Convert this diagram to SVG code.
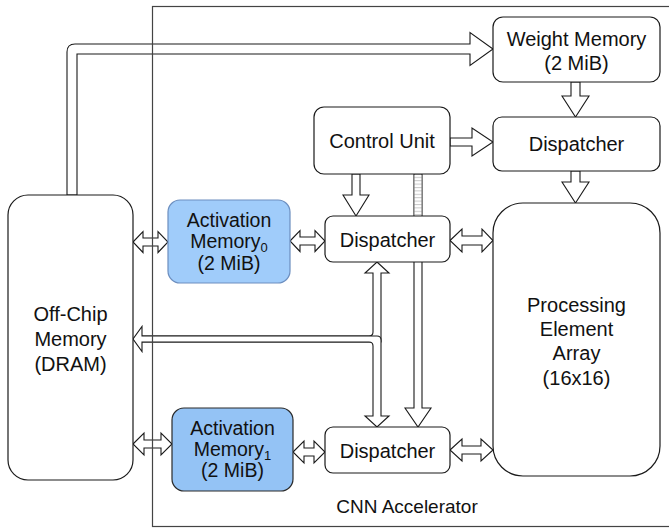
<svg xmlns="http://www.w3.org/2000/svg" width="669" height="528" viewBox="0 0 669 528">
<style>
.box{fill:#fff;stroke:#1a1a1a;stroke-width:1.2}
.t{font-family:"Liberation Sans",Arial,sans-serif;font-size:20px;fill:#111;text-anchor:middle}
.am{font-size:19.5px}
.sub{font-size:13px}
.arr{fill:#fff;stroke:#1a1a1a;stroke-width:1.1;stroke-linejoin:miter}
.nofill{fill:none;stroke:#1a1a1a;stroke-width:1.1}
.fillonly{fill:#fff;stroke:none}
</style>
<defs>
<pattern id="hatch" width="10" height="3.4" patternUnits="userSpaceOnUse">
<rect width="10" height="3.4" fill="#fff"/>
<line x1="0" y1="0.5" x2="10" y2="0.5" stroke="#c8c8c8" stroke-width="1"/>
</pattern>
</defs>
<rect width="669" height="528" fill="#fff"/>

<g id="connectors">
<path class="arr" d="M67,195 V52 Q67,44 75,44 H470 V32.5 L493,49 L470,65.5 V54 H77 V195 Z"/>
<path class="arr" d="M450,138 H472 V128 L493,142 L472,156 V146 H450 Z"/>
<path class="arr" d="M571,82 V96 H562 L575.5,117 L589,96 H580 V82 Z"/>
<path class="arr" d="M571,171 V182 H562 L575.5,203 L589,182 H580 V171 Z"/>
<path class="arr" d="M352,174 V195 H343 L356,216 L369,195 H360 V174 Z"/>
<path class="arr" d="M414,174 V408 H405 L418,427 L431,408 H422 V174 Z"/>
<rect x="414.6" y="174.6" width="6.8" height="41" fill="url(#hatch)"/>
<path class="arr" d="M133,242 L143,231.5 V238 H158 V231.5 L168,242 L158,252.5 V246 H143 V252.5 Z"/>
<path class="arr" d="M290,241 L300,230.5 V237 H315 V230.5 L325,241 L315,251.5 V245 H300 V251.5 Z"/>
<path class="arr" d="M450,240.5 L462,229 V236 H482 V229 L493,240.5 L482,252 V245 H462 V252 Z"/>
<path class="arr" d="M133,444 L144,433 V440 H161 V433 L172,444 L161,455 V448 H144 V455 Z"/>
<path class="arr" d="M293,452 L304,441 V448 H314 V441 L325,452 L314,463 V456 H304 V463 Z"/>
<path class="arr" d="M450,450 L462,439 V446 H481 V439 L493,450 L481,461 V454 H462 V461 Z"/>
<path class="arr" d="M377,262 L389,273 H381 V342 H142 V351.5 L133,339 L142,326.5 V336 H369 Q373,336 373,332 V273 H365 Z"/>
<path class="fillonly" d="M142,336 H377 Q381,336 381,340 V416 H389 L377,427 L365,416 H373 V346 Q373,342 369,342 H142 Z"/>
<path class="nofill" d="M142,336 H377 Q381,336 381,340 V416 H389 L377,427 L365,416 H373 V346 Q373,342 369,342 H142"/>
</g>

<g id="cnn-accelerator">
<rect x="152.5" y="6.5" width="530" height="520" fill="none" stroke="#444" stroke-width="1.2"/>
<text class="t" x="407" y="513" style="font-size:19px">CNN Accelerator</text>
</g>

<g id="off-chip-memory">
<rect class="box" x="8" y="195" width="125" height="285" rx="20"/>
<text class="t" x="70.5" y="321">Off-Chip</text>
<text class="t" x="70.5" y="346">Memory</text>
<text class="t" x="70.5" y="371">(DRAM)</text>
</g>

<g id="weight-memory">
<rect class="box" x="493" y="17" width="167" height="65" rx="10"/>
<text class="t" x="576.5" y="46">Weight Memory</text>
<text class="t" x="576.5" y="70">(2 MiB)</text>
</g>

<g id="dispatcher-weight">
<rect class="box" x="493" y="117" width="167" height="54" rx="9"/>
<text class="t" x="576.5" y="151">Dispatcher</text>
</g>

<g id="control-unit">
<rect class="box" x="314" y="107" width="136" height="67" rx="10"/>
<text class="t" x="382" y="148">Control Unit</text>
</g>

<g id="dispatcher-act0">
<rect class="box" x="325" y="216" width="125" height="46" rx="8"/>
<text class="t" x="387.5" y="247">Dispatcher</text>
</g>

<g id="dispatcher-act1">
<rect class="box" x="325" y="427" width="125" height="46" rx="8"/>
<text class="t" x="387.5" y="458">Dispatcher</text>
</g>

<g id="pe-array">
<rect class="box" x="493" y="203" width="167" height="273" rx="30"/>
<text class="t" x="576.5" y="312">Processing</text>
<text class="t" x="576.5" y="336">Element</text>
<text class="t" x="576.5" y="360">Array</text>
<text class="t" x="576.5" y="385">(16x16)</text>
</g>

<g id="activation-memory-0">
<rect x="168" y="200" width="122" height="83" rx="12" fill="#A0CCFA" stroke="#6C8EBF" stroke-width="1.2"/>
<text class="t am" x="229" y="227">Activation</text>
<text class="t am" x="229" y="248">Memory<tspan class="sub" dy="4">0</tspan></text>
<text class="t am" x="229" y="270">(2 MiB)</text>
</g>

<g id="activation-memory-1">
<rect x="172" y="408" width="121" height="83" rx="12" fill="#94C3F5" stroke="#2a2a2a" stroke-width="1.2"/>
<text class="t am" x="232.5" y="435">Activation</text>
<text class="t am" x="232.5" y="456">Memory<tspan class="sub" dy="4">1</tspan></text>
<text class="t am" x="232.5" y="477">(2 MiB)</text>
</g>
</svg>
